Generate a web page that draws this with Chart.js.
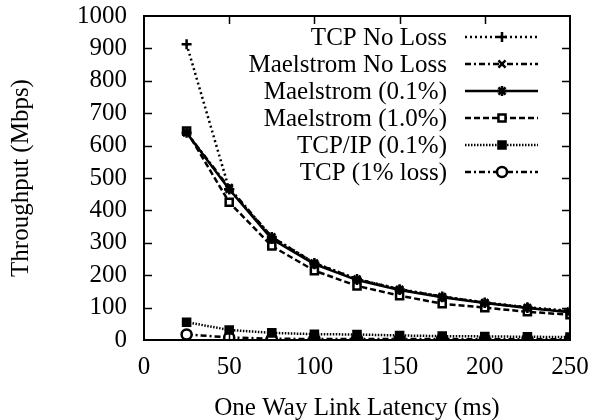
<!DOCTYPE html>
<html><head><meta charset="utf-8">
<script src="https://cdn.jsdelivr.net/npm/chart.js@4/dist/chart.umd.min.js"></script>
<style>html,body{margin:0;padding:0;background:#fff}#wrap{width:595px;height:420px}</style>
</head><body><div id="wrap"><canvas id="c" width="595" height="420"></canvas></div>
<script>
const latency = [25, 50, 75, 100, 125, 150, 175, 200, 225, 250];
const seriesNames = ["TCP No Loss", "Maelstrom No Loss", "Maelstrom (0.1%)", "Maelstrom (1.0%)", "TCP/IP (0.1%)", "TCP (1% loss)"];
const tcpNoLoss       = [913, 465, 318, 238, 188, 157, 134, 116, 101, 90];
const maelNoLoss      = [640, 470, 318, 237, 188, 156, 134, 115, 100, 88];
const mael01          = [640, 465, 312, 234, 185, 154, 132, 114, 99, 86];
const mael10          = [645, 425, 290, 214, 167, 137, 112, 100, 87, 78];
const tcpip01         = [55, 31, 22, 18, 17, 14, 12, 11, 10, 9];
const tcp1            = [17, 8, 4, 3, 3, 3, 3, 2, 2, 2];
const yTicks = [0, 100, 200, 300, 400, 500, 600, 700, 800, 900, 1000];
const xTicks = [0, 50, 100, 150, 200, 250];

const FONT = "'Liberation Serif', 'Times New Roman', serif";
const FS = 25;
const pts = arr => arr.map((v, i) => ({x: latency[i], y: v}));

const styles = [
  {dash: [2, 3], style: 'cross', bg: '#000', w: 2.5},
  {dash: [6, 3, 2, 3], style: 'crossRot', bg: '#000', w: 2.5},
  {dash: [], style: 'star', bg: '#000', w: 2.5},
  {dash: [6, 3], style: 'rect', bg: '#fff', w: 2.5},
  {dash: [1.5, 1.5], style: 'rect', bg: '#000', w: 2.5},
  {dash: [6, 3, 2, 3], style: 'circle', bg: '#fff', w: 2.5}
];
const values = [tcpNoLoss, maelNoLoss, mael01, mael10, tcpip01, tcp1];

const datasets = values.map((v, i) => ({
  label: seriesNames[i],
  data: pts(v),
  borderColor: '#000',
  borderWidth: styles[i].w,
  borderDash: styles[i].dash,
  pointStyle: styles[i].style,
  pointRadius: 5,
  pointBorderWidth: 2.5,
  pointBackgroundColor: styles[i].bg,
  pointBorderColor: '#000',
  tension: 0,
  fill: false
}));

const framePlugin = {
  id: 'frame',
  afterDraw(chart) {
    const ctx = chart.ctx, a = chart.chartArea;
    const xs = chart.scales.x, ys = chart.scales.y;
    ctx.save();
    ctx.strokeStyle = '#000';
    ctx.lineWidth = 1.5;
    ctx.setLineDash([]);
    ctx.beginPath();
    yTicks.forEach(v => {
      if (v === yTicks[0] || v === yTicks[yTicks.length - 1]) return;
      const y = Math.round(ys.getPixelForValue(v)) + 0.5;
      ctx.moveTo(a.left, y); ctx.lineTo(a.left + 8, y);
      ctx.moveTo(a.right, y); ctx.lineTo(a.right - 8, y);
    });
    xTicks.forEach(v => {
      if (v === xTicks[0] || v === xTicks[xTicks.length - 1]) return;
      const x = Math.round(xs.getPixelForValue(v)) + 0.5;
      ctx.moveTo(x, a.bottom); ctx.lineTo(x, a.bottom - 8);
      ctx.moveTo(x, a.top); ctx.lineTo(x, a.top + 8);
    });
    ctx.stroke();
    ctx.lineWidth = 2;
    ctx.strokeRect(a.left, a.top, a.right - a.left, a.bottom - a.top);
    ctx.restore();
  }
};

const legendPlugin = {
  id: 'sideLegend',
  afterDatasetsDraw(chart) {
    const ctx = chart.ctx, a = chart.chartArea;
    ctx.save();
    chart.data.datasets.forEach((ds, i) => {
      const y = a.top + 21 + i * 27;
      ctx.fillStyle = '#000';
      ctx.font = FS + 'px ' + FONT;
      ctx.textAlign = 'right';
      ctx.textBaseline = 'middle';
      ctx.fillText(ds.label, a.right - 123, y + 1);
      ctx.strokeStyle = '#000';
      ctx.lineWidth = ds.borderWidth;
      ctx.setLineDash(ds.borderDash);
      ctx.beginPath();
      ctx.moveTo(a.right - 105, y); ctx.lineTo(a.right - 32, y);
      ctx.stroke();
      ctx.setLineDash([]);
      ctx.fillStyle = ds.pointBackgroundColor;
      ctx.lineWidth = 2.5;
      Chart.helpers.drawPoint(ctx, {pointStyle: ds.pointStyle, radius: 5, rotation: 0, borderWidth: 2.5}, a.right - 68, y);
    });
    ctx.restore();
  }
};

new Chart(document.getElementById('c'), {
  type: 'line',
  data: {datasets},
  options: {
    responsive: false,
    animation: false,
    events: [],
    layout: {padding: {top: 16, right: 25, left: 0, bottom: 0}},
    plugins: {legend: {display: false}, tooltip: {enabled: false}},
    scales: {
      x: {
        type: 'linear', min: 0, max: 250,
        afterBuildTicks: s => { s.ticks = xTicks.map(v => ({value: v})); },
        afterFit: s => { s.height = 80; s.paddingLeft = 0; s.paddingRight = 0; },
        grid: {display: false, drawTicks: false},
        border: {display: false},
        ticks: {color: '#000', font: {family: FONT, size: FS}, padding: 12, maxRotation: 0, autoSkip: false, callback: v => String(v)},
        title: {display: true, text: 'One Way Link Latency (ms)', color: '#000', font: {family: FONT, size: FS, lineHeight: 0.9}, padding: {top: 0, bottom: 0}}
      },
      y: {
        type: 'linear', min: 0, max: 1000,
        afterBuildTicks: s => { s.ticks = yTicks.map(v => ({value: v})); },
        afterFit: s => { s.width = 144; s.paddingTop = 0; s.paddingBottom = 0; },
        grid: {display: false, drawTicks: false},
        border: {display: false},
        ticks: {color: '#000', font: {family: FONT, size: FS}, padding: 17, autoSkip: false, callback: v => String(v)},
        title: {display: true, text: 'Throughput (Mbps)', color: '#000', font: {family: FONT, size: FS}, padding: {top: 6, bottom: 0}}
      }
    }
  },
  plugins: [framePlugin, legendPlugin]
});
</script>
</body></html>
